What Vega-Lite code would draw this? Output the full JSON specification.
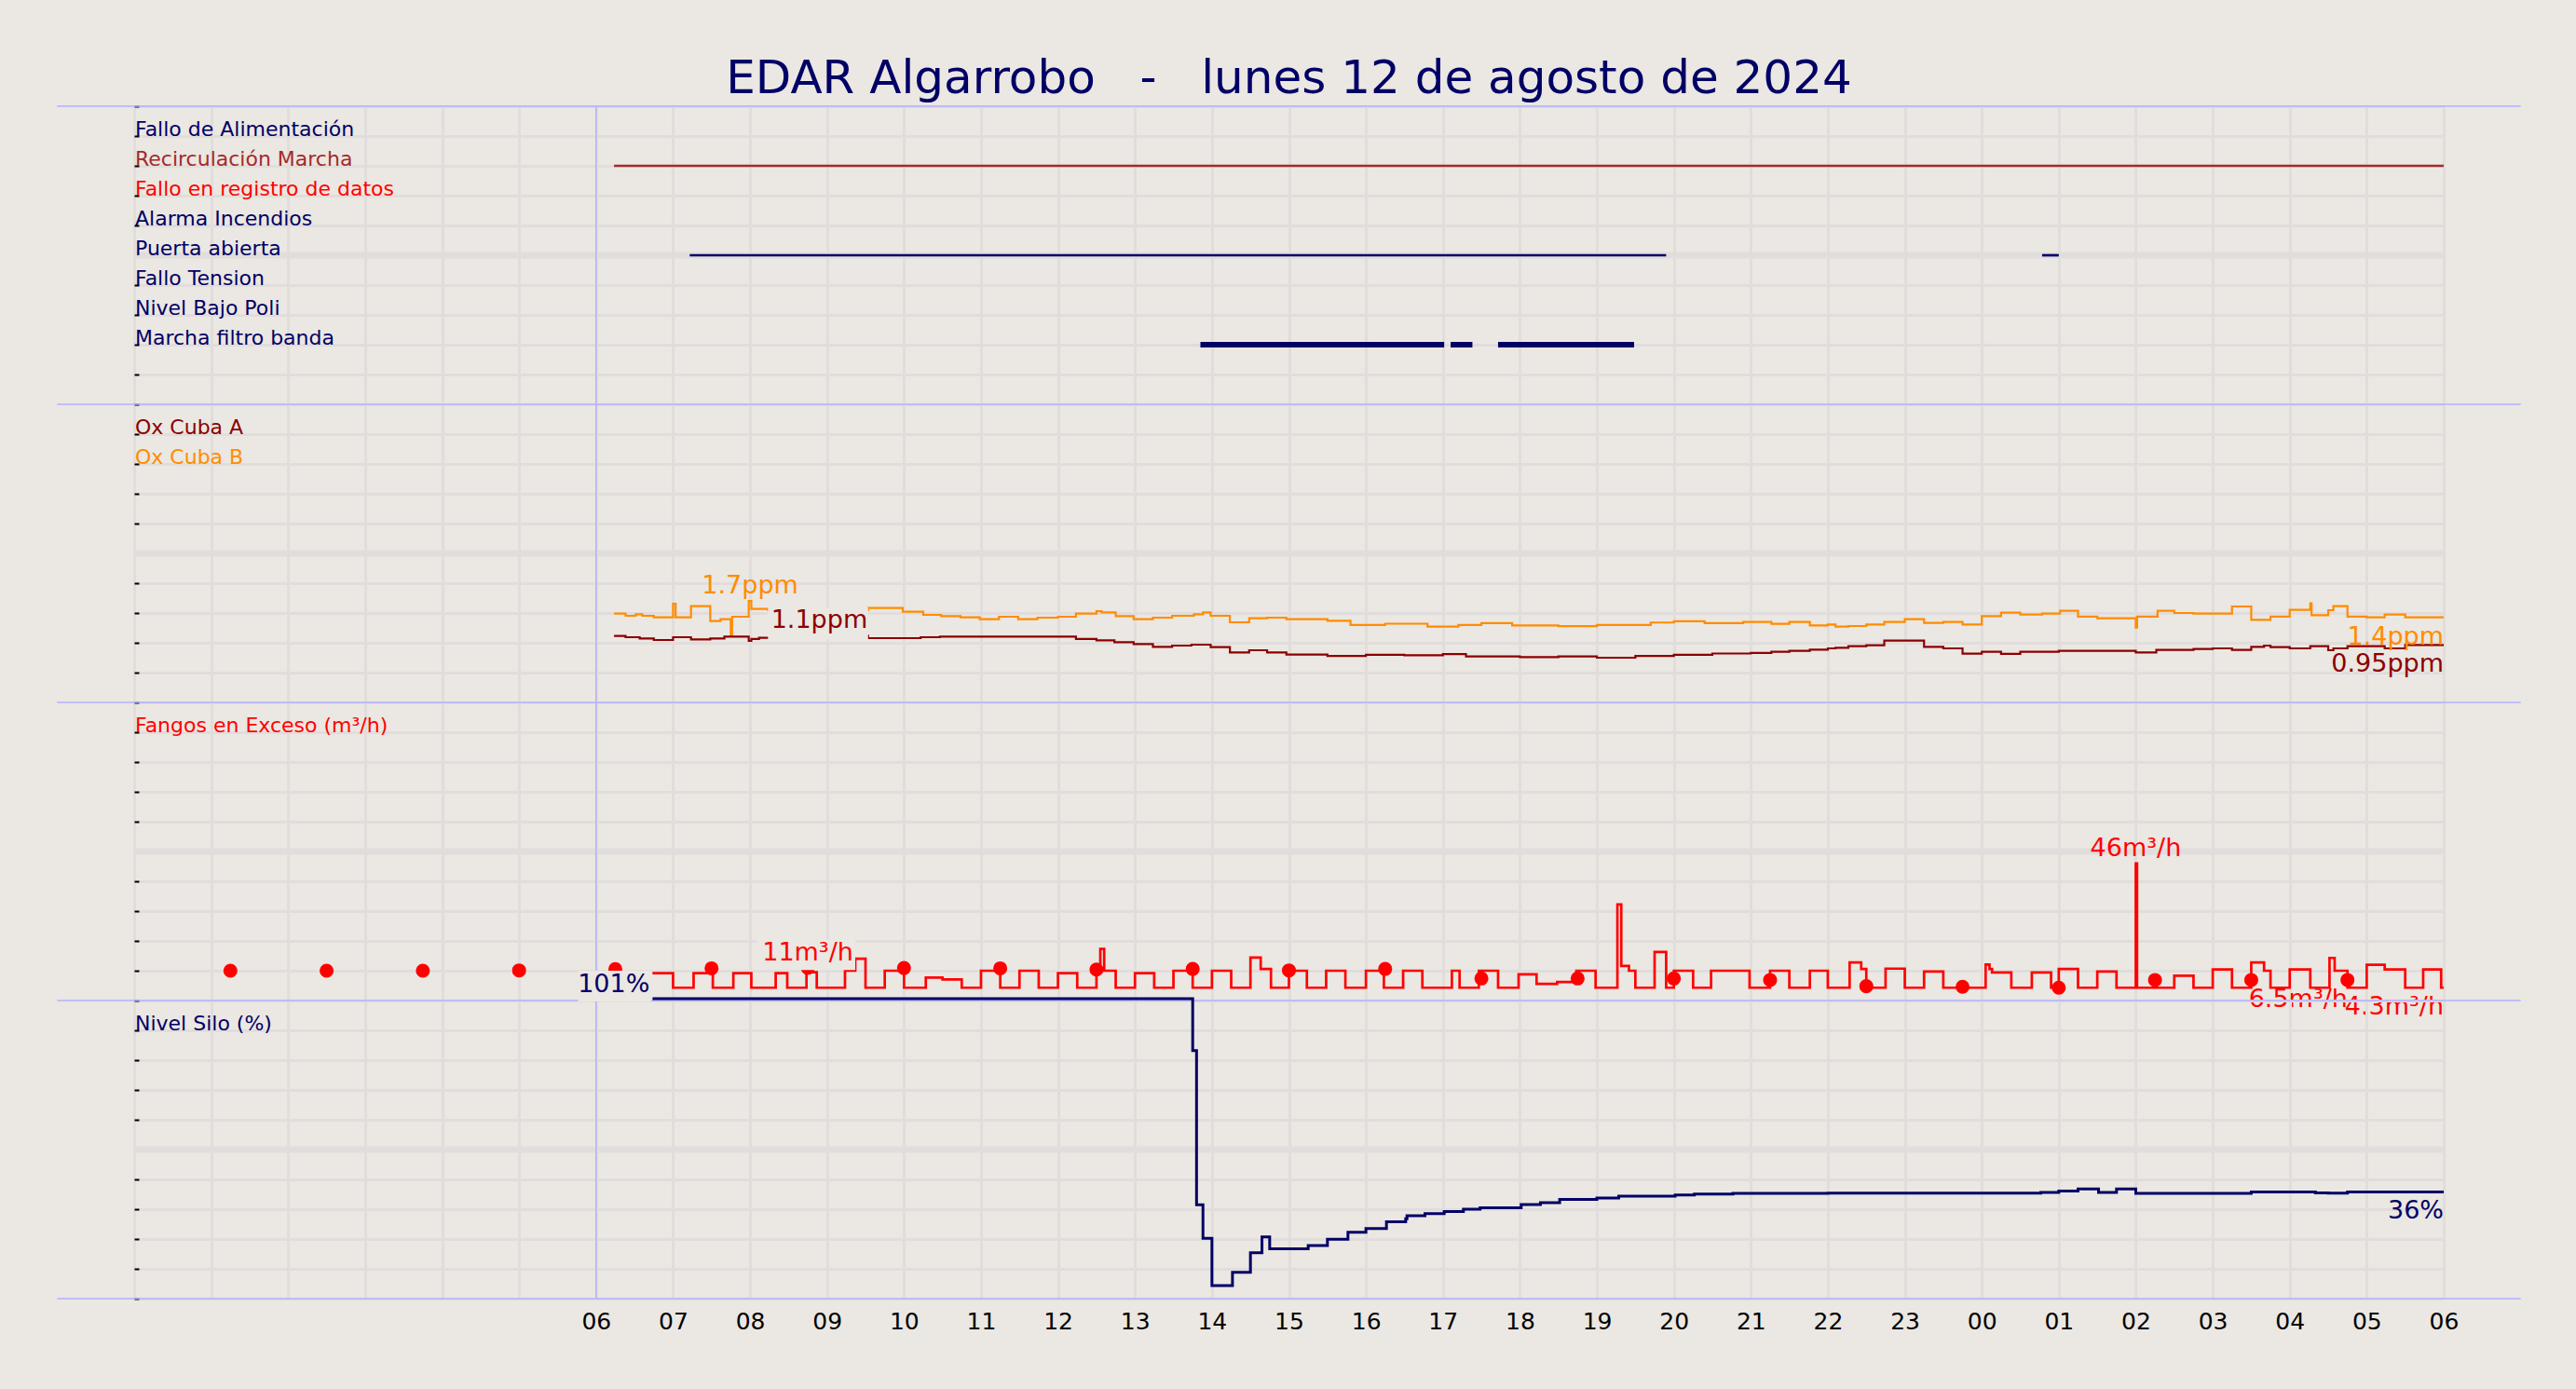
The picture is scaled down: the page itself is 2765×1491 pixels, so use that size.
{
  "$schema": "https://vega.github.io/schema/vega-lite/v6.json",
  "background": "#ebe7e2",
  "padding": {"left": 60, "right": 60, "top": 60, "bottom": 70},
  "title": {"text": "EDAR Algarrobo\u00a0\u00a0\u00a0-\u00a0\u00a0\u00a0lunes 12 de agosto de 2024", "fontSize": 50, "font": "DejaVu Sans", "fontWeight": "normal", "color": "#000066", "anchor": "middle", "frame": "group", "offset": 3},
  "config": {"font": "DejaVu Sans", "view": {"stroke": null}},
  "spacing": 0,
  "bounds": "flush",
  "datasets": {
    "siglist": [
      {"signal": "Fallo de Alimentación"}, {"signal": "Recirculación Marcha"}, {"signal": "Fallo en registro de datos"}, {"signal": "Alarma Incendios"},
      {"signal": "Puerta abierta"}, {"signal": "Fallo Tension"}, {"signal": "Nivel Bajo Poli"}, {"signal": "Marcha filtro banda"}
    ],
    "segments": [
      {"signal": "Recirculación Marcha", "start": "2024-08-12T06:14:00Z", "end": "2024-08-13T06:00:00Z"},
      {"signal": "Puerta abierta", "start": "2024-08-12T07:13:00Z", "end": "2024-08-12T19:54:00Z"},
      {"signal": "Puerta abierta", "start": "2024-08-13T00:47:00Z", "end": "2024-08-13T01:00:00Z"},
      {"signal": "Marcha filtro banda", "start": "2024-08-12T13:51:00Z", "end": "2024-08-12T17:01:00Z"},
      {"signal": "Marcha filtro banda", "start": "2024-08-12T17:06:00Z", "end": "2024-08-12T17:23:00Z"},
      {"signal": "Marcha filtro banda", "start": "2024-08-12T17:43:00Z", "end": "2024-08-12T19:29:00Z"}
    ],
    "ox": [
      {"series": "Ox Cuba B", "t": "2024-08-12T06:14:00Z", "v": 1.49},
      {"series": "Ox Cuba B", "t": "2024-08-12T06:23:00Z", "v": 1.453},
      {"series": "Ox Cuba B", "t": "2024-08-12T06:31:00Z", "v": 1.479},
      {"series": "Ox Cuba B", "t": "2024-08-12T06:36:00Z", "v": 1.453},
      {"series": "Ox Cuba B", "t": "2024-08-12T06:45:00Z", "v": 1.427},
      {"series": "Ox Cuba B", "t": "2024-08-12T07:00:00Z", "v": 1.656},
      {"series": "Ox Cuba B", "t": "2024-08-12T07:02:00Z", "v": 1.427},
      {"series": "Ox Cuba B", "t": "2024-08-12T07:14:00Z", "v": 1.615},
      {"series": "Ox Cuba B", "t": "2024-08-12T07:29:00Z", "v": 1.365},
      {"series": "Ox Cuba B", "t": "2024-08-12T07:37:00Z", "v": 1.396},
      {"series": "Ox Cuba B", "t": "2024-08-12T07:45:00Z", "v": 1.125},
      {"series": "Ox Cuba B", "t": "2024-08-12T07:46:00Z", "v": 1.4375},
      {"series": "Ox Cuba B", "t": "2024-08-12T07:59:00Z", "v": 1.7},
      {"series": "Ox Cuba B", "t": "2024-08-12T08:01:00Z", "v": 1.568},
      {"series": "Ox Cuba B", "t": "2024-08-12T08:14:00Z", "v": 1.55},
      {"series": "Ox Cuba B", "t": "2024-08-12T09:32:00Z", "v": 1.583},
      {"series": "Ox Cuba B", "t": "2024-08-12T09:59:00Z", "v": 1.521},
      {"series": "Ox Cuba B", "t": "2024-08-12T10:15:00Z", "v": 1.469},
      {"series": "Ox Cuba B", "t": "2024-08-12T10:29:00Z", "v": 1.448},
      {"series": "Ox Cuba B", "t": "2024-08-12T10:44:00Z", "v": 1.427},
      {"series": "Ox Cuba B", "t": "2024-08-12T10:59:00Z", "v": 1.396},
      {"series": "Ox Cuba B", "t": "2024-08-12T11:14:00Z", "v": 1.4375},
      {"series": "Ox Cuba B", "t": "2024-08-12T11:29:00Z", "v": 1.396},
      {"series": "Ox Cuba B", "t": "2024-08-12T11:44:00Z", "v": 1.422},
      {"series": "Ox Cuba B", "t": "2024-08-12T12:00:00Z", "v": 1.4375},
      {"series": "Ox Cuba B", "t": "2024-08-12T12:14:00Z", "v": 1.49},
      {"series": "Ox Cuba B", "t": "2024-08-12T12:30:00Z", "v": 1.531},
      {"series": "Ox Cuba B", "t": "2024-08-12T12:34:00Z", "v": 1.51},
      {"series": "Ox Cuba B", "t": "2024-08-12T12:45:00Z", "v": 1.448},
      {"series": "Ox Cuba B", "t": "2024-08-12T12:59:00Z", "v": 1.396},
      {"series": "Ox Cuba B", "t": "2024-08-12T13:14:00Z", "v": 1.422},
      {"series": "Ox Cuba B", "t": "2024-08-12T13:29:00Z", "v": 1.453},
      {"series": "Ox Cuba B", "t": "2024-08-12T13:46:00Z", "v": 1.479},
      {"series": "Ox Cuba B", "t": "2024-08-12T13:53:00Z", "v": 1.51},
      {"series": "Ox Cuba B", "t": "2024-08-12T13:59:00Z", "v": 1.453},
      {"series": "Ox Cuba B", "t": "2024-08-12T14:14:00Z", "v": 1.344},
      {"series": "Ox Cuba B", "t": "2024-08-12T14:29:00Z", "v": 1.411},
      {"series": "Ox Cuba B", "t": "2024-08-12T14:43:00Z", "v": 1.422},
      {"series": "Ox Cuba B", "t": "2024-08-12T14:58:00Z", "v": 1.396},
      {"series": "Ox Cuba B", "t": "2024-08-12T15:30:00Z", "v": 1.37},
      {"series": "Ox Cuba B", "t": "2024-08-12T15:48:00Z", "v": 1.3},
      {"series": "Ox Cuba B", "t": "2024-08-12T16:15:00Z", "v": 1.32},
      {"series": "Ox Cuba B", "t": "2024-08-12T16:48:00Z", "v": 1.27},
      {"series": "Ox Cuba B", "t": "2024-08-12T17:12:00Z", "v": 1.3},
      {"series": "Ox Cuba B", "t": "2024-08-12T17:30:00Z", "v": 1.33},
      {"series": "Ox Cuba B", "t": "2024-08-12T17:54:00Z", "v": 1.29},
      {"series": "Ox Cuba B", "t": "2024-08-12T18:30:00Z", "v": 1.28},
      {"series": "Ox Cuba B", "t": "2024-08-12T19:00:00Z", "v": 1.3},
      {"series": "Ox Cuba B", "t": "2024-08-12T19:42:00Z", "v": 1.34},
      {"series": "Ox Cuba B", "t": "2024-08-12T20:00:00Z", "v": 1.36},
      {"series": "Ox Cuba B", "t": "2024-08-12T20:24:00Z", "v": 1.33},
      {"series": "Ox Cuba B", "t": "2024-08-12T20:54:00Z", "v": 1.35},
      {"series": "Ox Cuba B", "t": "2024-08-12T21:16:00Z", "v": 1.318},
      {"series": "Ox Cuba B", "t": "2024-08-12T21:30:00Z", "v": 1.349},
      {"series": "Ox Cuba B", "t": "2024-08-12T21:46:00Z", "v": 1.292},
      {"series": "Ox Cuba B", "t": "2024-08-12T22:00:00Z", "v": 1.307},
      {"series": "Ox Cuba B", "t": "2024-08-12T22:06:00Z", "v": 1.271},
      {"series": "Ox Cuba B", "t": "2024-08-12T22:16:00Z", "v": 1.281},
      {"series": "Ox Cuba B", "t": "2024-08-12T22:30:00Z", "v": 1.307},
      {"series": "Ox Cuba B", "t": "2024-08-12T22:44:00Z", "v": 1.349},
      {"series": "Ox Cuba B", "t": "2024-08-12T23:00:00Z", "v": 1.396},
      {"series": "Ox Cuba B", "t": "2024-08-12T23:15:00Z", "v": 1.333},
      {"series": "Ox Cuba B", "t": "2024-08-12T23:30:00Z", "v": 1.349},
      {"series": "Ox Cuba B", "t": "2024-08-12T23:45:00Z", "v": 1.307},
      {"series": "Ox Cuba B", "t": "2024-08-13T00:00:00Z", "v": 1.448},
      {"series": "Ox Cuba B", "t": "2024-08-13T00:15:00Z", "v": 1.505},
      {"series": "Ox Cuba B", "t": "2024-08-13T00:30:00Z", "v": 1.474},
      {"series": "Ox Cuba B", "t": "2024-08-13T00:47:00Z", "v": 1.49},
      {"series": "Ox Cuba B", "t": "2024-08-13T01:01:00Z", "v": 1.536},
      {"series": "Ox Cuba B", "t": "2024-08-13T01:15:00Z", "v": 1.438},
      {"series": "Ox Cuba B", "t": "2024-08-13T01:30:00Z", "v": 1.411},
      {"series": "Ox Cuba B", "t": "2024-08-13T02:00:00Z", "v": 1.255},
      {"series": "Ox Cuba B", "t": "2024-08-13T02:01:00Z", "v": 1.438},
      {"series": "Ox Cuba B", "t": "2024-08-13T02:17:00Z", "v": 1.536},
      {"series": "Ox Cuba B", "t": "2024-08-13T02:30:00Z", "v": 1.5},
      {"series": "Ox Cuba B", "t": "2024-08-13T02:45:00Z", "v": 1.49},
      {"series": "Ox Cuba B", "t": "2024-08-13T03:15:00Z", "v": 1.609},
      {"series": "Ox Cuba B", "t": "2024-08-13T03:30:00Z", "v": 1.385},
      {"series": "Ox Cuba B", "t": "2024-08-13T03:45:00Z", "v": 1.438},
      {"series": "Ox Cuba B", "t": "2024-08-13T04:00:00Z", "v": 1.552},
      {"series": "Ox Cuba B", "t": "2024-08-13T04:16:00Z", "v": 1.661},
      {"series": "Ox Cuba B", "t": "2024-08-13T04:17:00Z", "v": 1.464},
      {"series": "Ox Cuba B", "t": "2024-08-13T04:30:00Z", "v": 1.547},
      {"series": "Ox Cuba B", "t": "2024-08-13T04:34:00Z", "v": 1.615},
      {"series": "Ox Cuba B", "t": "2024-08-13T04:45:00Z", "v": 1.438},
      {"series": "Ox Cuba B", "t": "2024-08-13T05:00:00Z", "v": 1.427},
      {"series": "Ox Cuba B", "t": "2024-08-13T05:14:00Z", "v": 1.474},
      {"series": "Ox Cuba B", "t": "2024-08-13T05:30:00Z", "v": 1.427},
      {"series": "Ox Cuba B", "t": "2024-08-13T06:00:00Z", "v": 1.427},
      {"series": "Ox Cuba A", "t": "2024-08-12T06:14:00Z", "v": 1.114},
      {"series": "Ox Cuba A", "t": "2024-08-12T06:23:00Z", "v": 1.094},
      {"series": "Ox Cuba A", "t": "2024-08-12T06:34:00Z", "v": 1.073},
      {"series": "Ox Cuba A", "t": "2024-08-12T06:45:00Z", "v": 1.047},
      {"series": "Ox Cuba A", "t": "2024-08-12T07:00:00Z", "v": 1.094},
      {"series": "Ox Cuba A", "t": "2024-08-12T07:14:00Z", "v": 1.057},
      {"series": "Ox Cuba A", "t": "2024-08-12T07:29:00Z", "v": 1.073},
      {"series": "Ox Cuba A", "t": "2024-08-12T07:40:00Z", "v": 1.104},
      {"series": "Ox Cuba A", "t": "2024-08-12T07:59:00Z", "v": 1.031},
      {"series": "Ox Cuba A", "t": "2024-08-12T08:01:00Z", "v": 1.063},
      {"series": "Ox Cuba A", "t": "2024-08-12T08:07:00Z", "v": 1.083},
      {"series": "Ox Cuba A", "t": "2024-08-12T08:54:00Z", "v": 1.12},
      {"series": "Ox Cuba A", "t": "2024-08-12T09:32:00Z", "v": 1.078},
      {"series": "Ox Cuba A", "t": "2024-08-12T10:13:00Z", "v": 1.094},
      {"series": "Ox Cuba A", "t": "2024-08-12T10:28:00Z", "v": 1.104},
      {"series": "Ox Cuba A", "t": "2024-08-12T12:14:00Z", "v": 1.063},
      {"series": "Ox Cuba A", "t": "2024-08-12T12:30:00Z", "v": 1.042},
      {"series": "Ox Cuba A", "t": "2024-08-12T12:44:00Z", "v": 1.01},
      {"series": "Ox Cuba A", "t": "2024-08-12T12:59:00Z", "v": 0.979},
      {"series": "Ox Cuba A", "t": "2024-08-12T13:14:00Z", "v": 0.932},
      {"series": "Ox Cuba A", "t": "2024-08-12T13:29:00Z", "v": 0.953},
      {"series": "Ox Cuba A", "t": "2024-08-12T13:44:00Z", "v": 0.969},
      {"series": "Ox Cuba A", "t": "2024-08-12T13:59:00Z", "v": 0.927},
      {"series": "Ox Cuba A", "t": "2024-08-12T14:14:00Z", "v": 0.839},
      {"series": "Ox Cuba A", "t": "2024-08-12T14:29:00Z", "v": 0.875},
      {"series": "Ox Cuba A", "t": "2024-08-12T14:43:00Z", "v": 0.839},
      {"series": "Ox Cuba A", "t": "2024-08-12T14:58:00Z", "v": 0.802},
      {"series": "Ox Cuba A", "t": "2024-08-12T15:30:00Z", "v": 0.78},
      {"series": "Ox Cuba A", "t": "2024-08-12T16:00:00Z", "v": 0.8},
      {"series": "Ox Cuba A", "t": "2024-08-12T16:30:00Z", "v": 0.79},
      {"series": "Ox Cuba A", "t": "2024-08-12T17:00:00Z", "v": 0.81},
      {"series": "Ox Cuba A", "t": "2024-08-12T17:18:00Z", "v": 0.77},
      {"series": "Ox Cuba A", "t": "2024-08-12T18:00:00Z", "v": 0.76},
      {"series": "Ox Cuba A", "t": "2024-08-12T18:30:00Z", "v": 0.77},
      {"series": "Ox Cuba A", "t": "2024-08-12T19:00:00Z", "v": 0.75},
      {"series": "Ox Cuba A", "t": "2024-08-12T19:30:00Z", "v": 0.78},
      {"series": "Ox Cuba A", "t": "2024-08-12T20:00:00Z", "v": 0.8},
      {"series": "Ox Cuba A", "t": "2024-08-12T20:30:00Z", "v": 0.82},
      {"series": "Ox Cuba A", "t": "2024-08-12T21:00:00Z", "v": 0.83},
      {"series": "Ox Cuba A", "t": "2024-08-12T21:16:00Z", "v": 0.849},
      {"series": "Ox Cuba A", "t": "2024-08-12T21:30:00Z", "v": 0.865},
      {"series": "Ox Cuba A", "t": "2024-08-12T21:46:00Z", "v": 0.885},
      {"series": "Ox Cuba A", "t": "2024-08-12T22:00:00Z", "v": 0.906},
      {"series": "Ox Cuba A", "t": "2024-08-12T22:06:00Z", "v": 0.917},
      {"series": "Ox Cuba A", "t": "2024-08-12T22:16:00Z", "v": 0.943},
      {"series": "Ox Cuba A", "t": "2024-08-12T22:30:00Z", "v": 0.958},
      {"series": "Ox Cuba A", "t": "2024-08-12T22:44:00Z", "v": 1.036},
      {"series": "Ox Cuba A", "t": "2024-08-12T23:15:00Z", "v": 0.932},
      {"series": "Ox Cuba A", "t": "2024-08-12T23:30:00Z", "v": 0.906},
      {"series": "Ox Cuba A", "t": "2024-08-12T23:45:00Z", "v": 0.818},
      {"series": "Ox Cuba A", "t": "2024-08-13T00:00:00Z", "v": 0.849},
      {"series": "Ox Cuba A", "t": "2024-08-13T00:15:00Z", "v": 0.813},
      {"series": "Ox Cuba A", "t": "2024-08-13T00:30:00Z", "v": 0.849},
      {"series": "Ox Cuba A", "t": "2024-08-13T01:00:00Z", "v": 0.865},
      {"series": "Ox Cuba A", "t": "2024-08-13T02:00:00Z", "v": 0.839},
      {"series": "Ox Cuba A", "t": "2024-08-13T02:16:00Z", "v": 0.88},
      {"series": "Ox Cuba A", "t": "2024-08-13T02:45:00Z", "v": 0.896},
      {"series": "Ox Cuba A", "t": "2024-08-13T03:00:00Z", "v": 0.906},
      {"series": "Ox Cuba A", "t": "2024-08-13T03:15:00Z", "v": 0.88},
      {"series": "Ox Cuba A", "t": "2024-08-13T03:30:00Z", "v": 0.932},
      {"series": "Ox Cuba A", "t": "2024-08-13T03:40:00Z", "v": 0.953},
      {"series": "Ox Cuba A", "t": "2024-08-13T03:45:00Z", "v": 0.927},
      {"series": "Ox Cuba A", "t": "2024-08-13T04:00:00Z", "v": 0.906},
      {"series": "Ox Cuba A", "t": "2024-08-13T04:16:00Z", "v": 0.943},
      {"series": "Ox Cuba A", "t": "2024-08-13T04:30:00Z", "v": 0.875},
      {"series": "Ox Cuba A", "t": "2024-08-13T04:34:00Z", "v": 0.906},
      {"series": "Ox Cuba A", "t": "2024-08-13T04:45:00Z", "v": 0.943},
      {"series": "Ox Cuba A", "t": "2024-08-13T05:14:00Z", "v": 0.906},
      {"series": "Ox Cuba A", "t": "2024-08-13T05:30:00Z", "v": 0.964},
      {"series": "Ox Cuba A", "t": "2024-08-13T06:00:00Z", "v": 0.964}
    ],
    "fangos": [
      {"t": "2024-08-12T06:44:00Z", "v": 9.2}, {"t": "2024-08-12T07:00:00Z", "v": 4.3},
      {"t": "2024-08-12T07:16:00Z", "v": 9.2}, {"t": "2024-08-12T07:31:00Z", "v": 4.3},
      {"t": "2024-08-12T07:47:00Z", "v": 9.2}, {"t": "2024-08-12T08:01:00Z", "v": 4.3},
      {"t": "2024-08-12T08:20:00Z", "v": 9.2}, {"t": "2024-08-12T08:29:00Z", "v": 4.3},
      {"t": "2024-08-12T08:44:00Z", "v": 9.5}, {"t": "2024-08-12T08:52:00Z", "v": 4.3},
      {"t": "2024-08-12T09:14:00Z", "v": 10.0}, {"t": "2024-08-12T09:22:00Z", "v": 14.0}, {"t": "2024-08-12T09:30:00Z", "v": 4.3},
      {"t": "2024-08-12T09:45:00Z", "v": 10.0}, {"t": "2024-08-12T10:00:00Z", "v": 4.3},
      {"t": "2024-08-12T10:17:00Z", "v": 7.7}, {"t": "2024-08-12T10:30:00Z", "v": 7.1}, {"t": "2024-08-12T10:45:00Z", "v": 4.3},
      {"t": "2024-08-12T11:00:00Z", "v": 10.0}, {"t": "2024-08-12T11:15:00Z", "v": 4.3},
      {"t": "2024-08-12T11:30:00Z", "v": 10.0}, {"t": "2024-08-12T11:45:00Z", "v": 4.3},
      {"t": "2024-08-12T12:00:00Z", "v": 9.2}, {"t": "2024-08-12T12:15:00Z", "v": 4.3},
      {"t": "2024-08-12T12:30:00Z", "v": 10.0}, {"t": "2024-08-12T12:33:00Z", "v": 17.3}, {"t": "2024-08-12T12:36:00Z", "v": 10.0}, {"t": "2024-08-12T12:45:00Z", "v": 4.3},
      {"t": "2024-08-12T13:00:00Z", "v": 9.2}, {"t": "2024-08-12T13:15:00Z", "v": 4.3},
      {"t": "2024-08-12T13:30:00Z", "v": 10.0}, {"t": "2024-08-12T13:45:00Z", "v": 4.3},
      {"t": "2024-08-12T14:00:00Z", "v": 10.0}, {"t": "2024-08-12T14:15:00Z", "v": 4.3},
      {"t": "2024-08-12T14:30:00Z", "v": 14.4}, {"t": "2024-08-12T14:38:00Z", "v": 10.6}, {"t": "2024-08-12T14:46:00Z", "v": 4.3},
      {"t": "2024-08-12T15:00:00Z", "v": 10.0}, {"t": "2024-08-12T15:14:00Z", "v": 4.3},
      {"t": "2024-08-12T15:29:00Z", "v": 10.0}, {"t": "2024-08-12T15:44:00Z", "v": 4.3},
      {"t": "2024-08-12T16:00:00Z", "v": 10.0}, {"t": "2024-08-12T16:14:00Z", "v": 4.3},
      {"t": "2024-08-12T16:29:00Z", "v": 10.0}, {"t": "2024-08-12T16:44:00Z", "v": 4.3},
      {"t": "2024-08-12T17:07:00Z", "v": 10.0}, {"t": "2024-08-12T17:13:00Z", "v": 4.3},
      {"t": "2024-08-12T17:28:00Z", "v": 10.0}, {"t": "2024-08-12T17:43:00Z", "v": 4.3},
      {"t": "2024-08-12T17:59:00Z", "v": 8.8}, {"t": "2024-08-12T18:13:00Z", "v": 5.6}, {"t": "2024-08-12T18:29:00Z", "v": 6.2},
      {"t": "2024-08-12T18:44:00Z", "v": 10.0}, {"t": "2024-08-12T18:59:00Z", "v": 4.3},
      {"t": "2024-08-12T19:16:00Z", "v": 32.2}, {"t": "2024-08-12T19:19:00Z", "v": 11.6}, {"t": "2024-08-12T19:25:00Z", "v": 10.0}, {"t": "2024-08-12T19:30:00Z", "v": 4.3},
      {"t": "2024-08-12T19:45:00Z", "v": 16.3}, {"t": "2024-08-12T19:54:00Z", "v": 4.3},
      {"t": "2024-08-12T20:00:00Z", "v": 10.0}, {"t": "2024-08-12T20:15:00Z", "v": 4.3},
      {"t": "2024-08-12T20:29:00Z", "v": 10.0}, {"t": "2024-08-12T20:59:00Z", "v": 4.3},
      {"t": "2024-08-12T21:15:00Z", "v": 10.0}, {"t": "2024-08-12T21:30:00Z", "v": 4.3},
      {"t": "2024-08-12T21:46:00Z", "v": 10.0}, {"t": "2024-08-12T22:00:00Z", "v": 4.3},
      {"t": "2024-08-12T22:17:00Z", "v": 12.8}, {"t": "2024-08-12T22:26:00Z", "v": 10.6}, {"t": "2024-08-12T22:30:00Z", "v": 4.3},
      {"t": "2024-08-12T22:45:00Z", "v": 10.7}, {"t": "2024-08-12T23:00:00Z", "v": 4.3},
      {"t": "2024-08-12T23:15:00Z", "v": 9.7}, {"t": "2024-08-12T23:30:00Z", "v": 4.3},
      {"t": "2024-08-13T00:03:00Z", "v": 12.1}, {"t": "2024-08-13T00:06:00Z", "v": 10.6}, {"t": "2024-08-13T00:08:00Z", "v": 9.4}, {"t": "2024-08-13T00:23:00Z", "v": 4.3},
      {"t": "2024-08-13T00:39:00Z", "v": 9.4}, {"t": "2024-08-13T00:54:00Z", "v": 4.3},
      {"t": "2024-08-13T01:00:00Z", "v": 10.6}, {"t": "2024-08-13T01:15:00Z", "v": 4.3},
      {"t": "2024-08-13T01:30:00Z", "v": 9.7}, {"t": "2024-08-13T01:45:00Z", "v": 4.3},
      {"t": "2024-08-13T02:00:00Z", "v": 46.0}, {"t": "2024-08-13T02:01:00Z", "v": 4.3},
      {"t": "2024-08-13T02:30:00Z", "v": 8.3}, {"t": "2024-08-13T02:45:00Z", "v": 4.3},
      {"t": "2024-08-13T03:00:00Z", "v": 10.4}, {"t": "2024-08-13T03:15:00Z", "v": 4.3},
      {"t": "2024-08-13T03:30:00Z", "v": 12.8}, {"t": "2024-08-13T03:40:00Z", "v": 10.0}, {"t": "2024-08-13T03:45:00Z", "v": 4.3},
      {"t": "2024-08-13T04:00:00Z", "v": 10.4}, {"t": "2024-08-13T04:16:00Z", "v": 4.3},
      {"t": "2024-08-13T04:31:00Z", "v": 14.3}, {"t": "2024-08-13T04:35:00Z", "v": 10.0}, {"t": "2024-08-13T04:45:00Z", "v": 4.3},
      {"t": "2024-08-13T05:00:00Z", "v": 12.0}, {"t": "2024-08-13T05:14:00Z", "v": 10.4}, {"t": "2024-08-13T05:30:00Z", "v": 4.3},
      {"t": "2024-08-13T05:44:00Z", "v": 10.4}, {"t": "2024-08-13T05:58:00Z", "v": 4.3},
      {"t": "2024-08-13T06:00:00Z", "v": 4.3}
    ],
    "fangos_pts": [
      {"t": "2024-08-12T01:15:00Z", "v": 10.0}, {"t": "2024-08-12T02:30:00Z", "v": 10.0}, {"t": "2024-08-12T03:45:00Z", "v": 10.0},
      {"t": "2024-08-12T05:00:00Z", "v": 10.1}, {"t": "2024-08-12T06:15:00Z", "v": 10.5}, {"t": "2024-08-12T07:30:00Z", "v": 10.8},
      {"t": "2024-08-12T08:45:00Z", "v": 11.0}, {"t": "2024-08-12T10:00:00Z", "v": 10.9}, {"t": "2024-08-12T11:15:00Z", "v": 10.8},
      {"t": "2024-08-12T12:30:00Z", "v": 10.4}, {"t": "2024-08-12T13:45:00Z", "v": 10.6}, {"t": "2024-08-12T15:00:00Z", "v": 10.1},
      {"t": "2024-08-12T16:15:00Z", "v": 10.6}, {"t": "2024-08-12T17:30:00Z", "v": 7.4}, {"t": "2024-08-12T18:45:00Z", "v": 7.4},
      {"t": "2024-08-12T20:00:00Z", "v": 7.4}, {"t": "2024-08-12T21:15:00Z", "v": 6.9}, {"t": "2024-08-12T22:30:00Z", "v": 4.8},
      {"t": "2024-08-12T23:45:00Z", "v": 4.6}, {"t": "2024-08-13T01:00:00Z", "v": 4.3}, {"t": "2024-08-13T02:15:00Z", "v": 6.9},
      {"t": "2024-08-13T03:30:00Z", "v": 6.9}, {"t": "2024-08-13T04:45:00Z", "v": 6.9}
    ],
    "silo": [
      {"t": "2024-08-12T06:44:00Z", "v": 100.6}, {"t": "2024-08-12T13:45:00Z", "v": 83.2}, {"t": "2024-08-12T13:48:00Z", "v": 31.5},
      {"t": "2024-08-12T13:53:00Z", "v": 20.2}, {"t": "2024-08-12T14:00:00Z", "v": 4.4}, {"t": "2024-08-12T14:16:00Z", "v": 8.85},
      {"t": "2024-08-12T14:30:00Z", "v": 15.4}, {"t": "2024-08-12T14:39:00Z", "v": 20.7}, {"t": "2024-08-12T14:45:00Z", "v": 16.7},
      {"t": "2024-08-12T15:15:00Z", "v": 17.8}, {"t": "2024-08-12T15:30:00Z", "v": 19.9}, {"t": "2024-08-12T15:46:00Z", "v": 22.3},
      {"t": "2024-08-12T16:00:00Z", "v": 23.5}, {"t": "2024-08-12T16:16:00Z", "v": 25.8}, {"t": "2024-08-12T16:31:00Z", "v": 26.8},
      {"t": "2024-08-12T16:32:00Z", "v": 27.8}, {"t": "2024-08-12T16:46:00Z", "v": 28.5}, {"t": "2024-08-12T17:01:00Z", "v": 29.2},
      {"t": "2024-08-12T17:16:00Z", "v": 30.0}, {"t": "2024-08-12T17:29:00Z", "v": 30.5}, {"t": "2024-08-12T18:01:00Z", "v": 31.6},
      {"t": "2024-08-12T18:16:00Z", "v": 32.2}, {"t": "2024-08-12T18:31:00Z", "v": 33.3}, {"t": "2024-08-12T19:00:00Z", "v": 33.75},
      {"t": "2024-08-12T19:17:00Z", "v": 34.4}, {"t": "2024-08-12T20:01:00Z", "v": 34.8}, {"t": "2024-08-12T20:16:00Z", "v": 35.1},
      {"t": "2024-08-12T20:46:00Z", "v": 35.3}, {"t": "2024-08-12T22:00:00Z", "v": 35.4}, {"t": "2024-08-13T00:46:00Z", "v": 35.6},
      {"t": "2024-08-13T01:00:00Z", "v": 36.1}, {"t": "2024-08-13T01:15:00Z", "v": 36.8}, {"t": "2024-08-13T01:31:00Z", "v": 35.6},
      {"t": "2024-08-13T01:45:00Z", "v": 36.8}, {"t": "2024-08-13T02:00:00Z", "v": 35.3}, {"t": "2024-08-13T03:30:00Z", "v": 35.8},
      {"t": "2024-08-13T04:20:00Z", "v": 35.5}, {"t": "2024-08-13T04:30:00Z", "v": 35.4}, {"t": "2024-08-13T04:45:00Z", "v": 35.8},
      {"t": "2024-08-13T06:00:00Z", "v": 35.8}
    ],
    "annot": [
      {"panel": "ox", "series": "Ox Cuba B", "kind": "max", "t": "2024-08-12T08:00:00Z", "v": 1.7, "label": "1.7ppm"},
      {"panel": "ox", "series": "Ox Cuba A", "kind": "max", "t": "2024-08-12T08:54:00Z", "v": 1.12, "label": "1.1ppm"},
      {"panel": "ox", "series": "Ox Cuba B", "kind": "last", "t": "2024-08-13T06:00:00Z", "v": 1.427, "label": "1.4ppm"},
      {"panel": "ox", "series": "Ox Cuba A", "kind": "last", "t": "2024-08-13T06:00:00Z", "v": 0.964, "label": "0.95ppm"},
      {"panel": "fangos", "series": "Fangos", "kind": "max", "t": "2024-08-13T02:00:00Z", "v": 46, "label": "46m³/h"},
      {"panel": "fangos", "series": "Fangos", "kind": "max", "t": "2024-08-12T08:45:00Z", "v": 11, "label": "11m³/h"},
      {"panel": "fangos", "series": "Fangos", "kind": "min", "t": "2024-08-13T03:28:00Z", "v": 6.5, "label": "6.5m³/h"},
      {"panel": "fangos", "series": "Fangos", "kind": "last", "t": "2024-08-13T06:00:00Z", "v": 4.3, "label": "4.3m³/h"},
      {"panel": "silo", "series": "Silo", "kind": "first", "t": "2024-08-12T06:44:00Z", "v": 100.6, "label": "101%"},
      {"panel": "silo", "series": "Silo", "kind": "last", "t": "2024-08-13T06:00:00Z", "v": 35.8, "label": "36%"}
    ]
  },
  "vconcat": [
    {
      "width": 2479, "height": 320,
      "layer": [
        {
          "data": {"values": [{}]},
          "mark": {"type": "rule", "color": "#e1dddc", "strokeWidth": 7},
          "encoding": {"y": {"datum": "Puerta abierta", "type": "nominal",
            "scale": {"type": "point", "padding": 0, "domain": ["_top", "Fallo de Alimentación", "Recirculación Marcha", "Fallo en registro de datos", "Alarma Incendios", "Puerta abierta", "Fallo Tension", "Nivel Bajo Poli", "Marcha filtro banda", "_r1", "_bottom"]},
            "axis": {"grid": true, "gridColor": "#e1dddc", "gridWidth": 3, "ticks": true, "tickSize": -5, "tickColor": "#000000", "tickWidth": 2, "labels": false, "domain": false, "title": null}}}
        },
        {
          "data": {"values": [{}]},
          "mark": {"type": "rule", "color": "#b0b0ff", "strokeWidth": 1.5, "clip": false},
          "encoding": {
            "x": {"datum": 1723417200000, "type": "temporal", "scale": {"domain": [1723420800000, 1723528800000], "nice": false},
              "axis": {"tickCount": 30, "grid": true, "gridColor": "#e1dddc", "gridWidth": 3, "ticks": false, "labels": false, "domain": false, "title": null}},
            "x2": {"datum": 1723532400000},
            "y": {"datum": "_top", "type": "nominal",
              "scale": {"type": "point", "padding": 0, "domain": ["_top", "Fallo de Alimentación", "Recirculación Marcha", "Fallo en registro de datos", "Alarma Incendios", "Puerta abierta", "Fallo Tension", "Nivel Bajo Poli", "Marcha filtro banda", "_r1", "_bottom"]},
              "axis": {"grid": true, "gridColor": "#e1dddc", "gridWidth": 3, "ticks": true, "tickSize": -5, "tickColor": "#000000", "tickWidth": 2, "labels": false, "domain": false, "title": null}}
          }
        },
        {
          "data": {"values": [{}]},
          "mark": {"type": "rule", "color": "#b0b0ff", "strokeWidth": 1.5},
          "encoding": {"x": {"datum": 1723442400000, "type": "temporal", "scale": {"domain": [1723420800000, 1723528800000], "nice": false},
            "axis": {"tickCount": 30, "grid": true, "gridColor": "#e1dddc", "gridWidth": 3, "ticks": false, "labels": false, "domain": false, "title": null}}}
        },
        {
          "data": {"name": "siglist"},
          "mark": {"type": "text", "align": "left", "baseline": "alphabetic", "fontSize": 22, "dx": 1},
          "encoding": {
            "x": {"datum": 1723420800000, "type": "temporal", "scale": {"domain": [1723420800000, 1723528800000], "nice": false},
              "axis": {"tickCount": 30, "grid": true, "gridColor": "#e1dddc", "gridWidth": 3, "ticks": false, "labels": false, "domain": false, "title": null}},
            "y": {"field": "signal", "type": "nominal",
              "scale": {"type": "point", "padding": 0, "domain": ["_top", "Fallo de Alimentación", "Recirculación Marcha", "Fallo en registro de datos", "Alarma Incendios", "Puerta abierta", "Fallo Tension", "Nivel Bajo Poli", "Marcha filtro banda", "_r1", "_bottom"]},
              "axis": {"grid": true, "gridColor": "#e1dddc", "gridWidth": 3, "ticks": true, "tickSize": -5, "tickColor": "#000000", "tickWidth": 2, "labels": false, "domain": false, "title": null}},
            "color": {"field": "signal", "type": "nominal", "legend": null,
              "scale": {"domain": ["Fallo de Alimentación", "Recirculación Marcha", "Fallo en registro de datos", "Alarma Incendios", "Puerta abierta", "Fallo Tension", "Nivel Bajo Poli", "Marcha filtro banda"],
                "range": ["#000066", "#a52a2a", "#ff0000", "#000066", "#000066", "#000066", "#000066", "#000066"]}},
            "text": {"field": "signal", "type": "nominal"}
          }
        },
        {
          "data": {"name": "segments"},
          "mark": {"type": "rule"},
          "encoding": {
            "x": {"field": "start", "type": "temporal", "scale": {"domain": [1723420800000, 1723528800000], "nice": false},
              "axis": {"tickCount": 30, "grid": true, "gridColor": "#e1dddc", "gridWidth": 3, "ticks": false, "labels": false, "domain": false, "title": null}},
            "x2": {"field": "end"},
            "y": {"field": "signal", "type": "nominal",
              "scale": {"type": "point", "padding": 0, "domain": ["_top", "Fallo de Alimentación", "Recirculación Marcha", "Fallo en registro de datos", "Alarma Incendios", "Puerta abierta", "Fallo Tension", "Nivel Bajo Poli", "Marcha filtro banda", "_r1", "_bottom"]},
              "axis": {"grid": true, "gridColor": "#e1dddc", "gridWidth": 3, "ticks": true, "tickSize": -5, "tickColor": "#000000", "tickWidth": 2, "labels": false, "domain": false, "title": null}},
            "color": {"field": "signal", "type": "nominal", "legend": null},
            "strokeWidth": {"condition": {"test": "datum.signal === 'Marcha filtro banda'", "value": 6}, "value": 2.7}
          }
        }
      ]
    },
    {
      "width": 2479, "height": 320,
      "layer": [
        {
          "data": {"values": [{}]},
          "mark": {"type": "rule", "color": "#e1dddc", "strokeWidth": 7},
          "encoding": {"y": {"datum": 2.5, "type": "quantitative", "scale": {"domain": [0, 5], "nice": false, "zero": false},
            "axis": {"values": [0, 0.5, 1, 1.5, 2, 2.5, 3, 3.5, 4, 4.5, 5], "grid": true, "gridColor": "#e1dddc", "gridWidth": 3, "ticks": true, "tickSize": -5, "tickColor": "#000000", "tickWidth": 2, "labels": false, "domain": false, "title": null}}}
        },
        {
          "data": {"values": [{}]},
          "mark": {"type": "rule", "color": "#b0b0ff", "strokeWidth": 1.5, "clip": false},
          "encoding": {
            "x": {"datum": 1723417200000, "type": "temporal", "scale": {"domain": [1723420800000, 1723528800000], "nice": false},
              "axis": {"tickCount": 30, "grid": true, "gridColor": "#e1dddc", "gridWidth": 3, "ticks": false, "labels": false, "domain": false, "title": null}},
            "x2": {"datum": 1723532400000},
            "y": {"datum": 5, "type": "quantitative", "scale": {"domain": [0, 5], "nice": false, "zero": false},
              "axis": {"values": [0, 0.5, 1, 1.5, 2, 2.5, 3, 3.5, 4, 4.5, 5], "grid": true, "gridColor": "#e1dddc", "gridWidth": 3, "ticks": true, "tickSize": -5, "tickColor": "#000000", "tickWidth": 2, "labels": false, "domain": false, "title": null}}
          }
        },
        {
          "data": {"values": [{}]},
          "mark": {"type": "rule", "color": "#b0b0ff", "strokeWidth": 1.5},
          "encoding": {"x": {"datum": 1723442400000, "type": "temporal", "scale": {"domain": [1723420800000, 1723528800000], "nice": false},
            "axis": {"tickCount": 30, "grid": true, "gridColor": "#e1dddc", "gridWidth": 3, "ticks": false, "labels": false, "domain": false, "title": null}}}
        },
        {
          "data": {"values": [{}]},
          "mark": {"type": "text", "align": "left", "baseline": "alphabetic", "fontSize": 22, "dx": 1, "color": "#8b0000"},
          "encoding": {
            "x": {"datum": 1723420800000, "type": "temporal", "scale": {"domain": [1723420800000, 1723528800000], "nice": false},
              "axis": {"tickCount": 30, "grid": true, "gridColor": "#e1dddc", "gridWidth": 3, "ticks": false, "labels": false, "domain": false, "title": null}},
            "y": {"datum": 4.5, "type": "quantitative", "scale": {"domain": [0, 5], "nice": false, "zero": false},
              "axis": {"values": [0, 0.5, 1, 1.5, 2, 2.5, 3, 3.5, 4, 4.5, 5], "grid": true, "gridColor": "#e1dddc", "gridWidth": 3, "ticks": true, "tickSize": -5, "tickColor": "#000000", "tickWidth": 2, "labels": false, "domain": false, "title": null}},
            "text": {"value": "Ox Cuba A"}
          }
        },
        {
          "data": {"values": [{}]},
          "mark": {"type": "text", "align": "left", "baseline": "alphabetic", "fontSize": 22, "dx": 1, "color": "#ff8c00"},
          "encoding": {
            "x": {"datum": 1723420800000, "type": "temporal", "scale": {"domain": [1723420800000, 1723528800000], "nice": false},
              "axis": {"tickCount": 30, "grid": true, "gridColor": "#e1dddc", "gridWidth": 3, "ticks": false, "labels": false, "domain": false, "title": null}},
            "y": {"datum": 4.0, "type": "quantitative", "scale": {"domain": [0, 5], "nice": false, "zero": false},
              "axis": {"values": [0, 0.5, 1, 1.5, 2, 2.5, 3, 3.5, 4, 4.5, 5], "grid": true, "gridColor": "#e1dddc", "gridWidth": 3, "ticks": true, "tickSize": -5, "tickColor": "#000000", "tickWidth": 2, "labels": false, "domain": false, "title": null}},
            "text": {"value": "Ox Cuba B"}
          }
        },
        {
          "data": {"name": "ox"},
          "transform": [{"filter": "datum.series === 'Ox Cuba B'"}],
          "mark": {"type": "line", "interpolate": "step-after", "strokeWidth": 2.2, "color": "#ff8c00"},
          "encoding": {
            "x": {"field": "t", "type": "temporal", "scale": {"domain": [1723420800000, 1723528800000], "nice": false},
              "axis": {"tickCount": 30, "grid": true, "gridColor": "#e1dddc", "gridWidth": 3, "ticks": false, "labels": false, "domain": false, "title": null}},
            "y": {"field": "v", "type": "quantitative", "scale": {"domain": [0, 5], "nice": false, "zero": false},
              "axis": {"values": [0, 0.5, 1, 1.5, 2, 2.5, 3, 3.5, 4, 4.5, 5], "grid": true, "gridColor": "#e1dddc", "gridWidth": 3, "ticks": true, "tickSize": -5, "tickColor": "#000000", "tickWidth": 2, "labels": false, "domain": false, "title": null}}
          }
        },
        {
          "data": {"name": "ox"},
          "transform": [{"filter": "datum.series === 'Ox Cuba A'"}],
          "mark": {"type": "line", "interpolate": "step-after", "strokeWidth": 2.2, "color": "#8b0000"},
          "encoding": {
            "x": {"field": "t", "type": "temporal", "scale": {"domain": [1723420800000, 1723528800000], "nice": false},
              "axis": {"tickCount": 30, "grid": true, "gridColor": "#e1dddc", "gridWidth": 3, "ticks": false, "labels": false, "domain": false, "title": null}},
            "y": {"field": "v", "type": "quantitative", "scale": {"domain": [0, 5], "nice": false, "zero": false},
              "axis": {"values": [0, 0.5, 1, 1.5, 2, 2.5, 3, 3.5, 4, 4.5, 5], "grid": true, "gridColor": "#e1dddc", "gridWidth": 3, "ticks": true, "tickSize": -5, "tickColor": "#000000", "tickWidth": 2, "labels": false, "domain": false, "title": null}}
          }
        },
        {
          "data": {"values": [{}]},
          "mark": {"type": "rect", "color": "#ebe7e2"},
          "encoding": {
            "x": {"datum": 1723450440000, "type": "temporal", "scale": {"domain": [1723420800000, 1723528800000], "nice": false},
              "axis": {"tickCount": 30, "grid": true, "gridColor": "#e1dddc", "gridWidth": 3, "ticks": false, "labels": false, "domain": false, "title": null}},
            "x2": {"datum": 1723455120000},
            "y": {"datum": 1.06, "type": "quantitative", "scale": {"domain": [0, 5], "nice": false, "zero": false},
              "axis": {"values": [0, 0.5, 1, 1.5, 2, 2.5, 3, 3.5, 4, 4.5, 5], "grid": true, "gridColor": "#e1dddc", "gridWidth": 3, "ticks": true, "tickSize": -5, "tickColor": "#000000", "tickWidth": 2, "labels": false, "domain": false, "title": null}},
            "y2": {"datum": 1.594}
          }
        },
        {
          "data": {"name": "annot"},
          "transform": [{"filter": "datum.panel === 'ox' && datum.kind === 'max'"}],
          "mark": {"type": "text", "align": "center", "baseline": "bottom", "fontSize": 27, "dy": -2},
          "encoding": {
            "x": {"field": "t", "type": "temporal", "scale": {"domain": [1723420800000, 1723528800000], "nice": false},
              "axis": {"tickCount": 30, "grid": true, "gridColor": "#e1dddc", "gridWidth": 3, "ticks": false, "labels": false, "domain": false, "title": null}},
            "y": {"field": "v", "type": "quantitative", "scale": {"domain": [0, 5], "nice": false, "zero": false},
              "axis": {"values": [0, 0.5, 1, 1.5, 2, 2.5, 3, 3.5, 4, 4.5, 5], "grid": true, "gridColor": "#e1dddc", "gridWidth": 3, "ticks": true, "tickSize": -5, "tickColor": "#000000", "tickWidth": 2, "labels": false, "domain": false, "title": null}},
            "text": {"field": "label", "type": "nominal"},
            "color": {"condition": {"test": "datum.series === 'Ox Cuba A'", "value": "#8b0000"}, "value": "#ff8c00"}
          }
        },
        {
          "data": {"name": "annot"},
          "transform": [{"filter": "datum.panel === 'ox' && datum.kind === 'last'"}],
          "mark": {"type": "text", "align": "right", "baseline": "top", "fontSize": 27, "dy": 8},
          "encoding": {
            "x": {"field": "t", "type": "temporal", "scale": {"domain": [1723420800000, 1723528800000], "nice": false},
              "axis": {"tickCount": 30, "grid": true, "gridColor": "#e1dddc", "gridWidth": 3, "ticks": false, "labels": false, "domain": false, "title": null}},
            "y": {"field": "v", "type": "quantitative", "scale": {"domain": [0, 5], "nice": false, "zero": false},
              "axis": {"values": [0, 0.5, 1, 1.5, 2, 2.5, 3, 3.5, 4, 4.5, 5], "grid": true, "gridColor": "#e1dddc", "gridWidth": 3, "ticks": true, "tickSize": -5, "tickColor": "#000000", "tickWidth": 2, "labels": false, "domain": false, "title": null}},
            "text": {"field": "label", "type": "nominal"},
            "color": {"condition": {"test": "datum.series === 'Ox Cuba A'", "value": "#8b0000"}, "value": "#ff8c00"}
          }
        }
      ]
    },
    {
      "width": 2479, "height": 320,
      "layer": [
        {
          "data": {"values": [{}]},
          "mark": {"type": "rule", "color": "#e1dddc", "strokeWidth": 7},
          "encoding": {"y": {"datum": 50, "type": "quantitative", "scale": {"domain": [0, 100], "nice": false, "zero": false},
            "axis": {"values": [0, 10, 20, 30, 40, 50, 60, 70, 80, 90, 100], "grid": true, "gridColor": "#e1dddc", "gridWidth": 3, "ticks": true, "tickSize": -5, "tickColor": "#000000", "tickWidth": 2, "labels": false, "domain": false, "title": null}}}
        },
        {
          "data": {"values": [{}]},
          "mark": {"type": "rule", "color": "#b0b0ff", "strokeWidth": 1.5, "clip": false},
          "encoding": {
            "x": {"datum": 1723417200000, "type": "temporal", "scale": {"domain": [1723420800000, 1723528800000], "nice": false},
              "axis": {"tickCount": 30, "grid": true, "gridColor": "#e1dddc", "gridWidth": 3, "ticks": false, "labels": false, "domain": false, "title": null}},
            "x2": {"datum": 1723532400000},
            "y": {"datum": 100, "type": "quantitative", "scale": {"domain": [0, 100], "nice": false, "zero": false},
              "axis": {"values": [0, 10, 20, 30, 40, 50, 60, 70, 80, 90, 100], "grid": true, "gridColor": "#e1dddc", "gridWidth": 3, "ticks": true, "tickSize": -5, "tickColor": "#000000", "tickWidth": 2, "labels": false, "domain": false, "title": null}}
          }
        },
        {
          "data": {"values": [{}]},
          "mark": {"type": "rule", "color": "#b0b0ff", "strokeWidth": 1.5},
          "encoding": {"x": {"datum": 1723442400000, "type": "temporal", "scale": {"domain": [1723420800000, 1723528800000], "nice": false},
            "axis": {"tickCount": 30, "grid": true, "gridColor": "#e1dddc", "gridWidth": 3, "ticks": false, "labels": false, "domain": false, "title": null}}}
        },
        {
          "data": {"values": [{}]},
          "mark": {"type": "text", "align": "left", "baseline": "alphabetic", "fontSize": 22, "dx": 1, "color": "#ff0000"},
          "encoding": {
            "x": {"datum": 1723420800000, "type": "temporal", "scale": {"domain": [1723420800000, 1723528800000], "nice": false},
              "axis": {"tickCount": 30, "grid": true, "gridColor": "#e1dddc", "gridWidth": 3, "ticks": false, "labels": false, "domain": false, "title": null}},
            "y": {"datum": 90, "type": "quantitative", "scale": {"domain": [0, 100], "nice": false, "zero": false},
              "axis": {"values": [0, 10, 20, 30, 40, 50, 60, 70, 80, 90, 100], "grid": true, "gridColor": "#e1dddc", "gridWidth": 3, "ticks": true, "tickSize": -5, "tickColor": "#000000", "tickWidth": 2, "labels": false, "domain": false, "title": null}},
            "text": {"value": "Fangos en Exceso (m³/h)"}
          }
        },
        {
          "data": {"name": "fangos"},
          "mark": {"type": "line", "interpolate": "step-after", "strokeWidth": 2.7, "color": "#ff0000"},
          "encoding": {
            "x": {"field": "t", "type": "temporal", "scale": {"domain": [1723420800000, 1723528800000], "nice": false},
              "axis": {"tickCount": 30, "grid": true, "gridColor": "#e1dddc", "gridWidth": 3, "ticks": false, "labels": false, "domain": false, "title": null}},
            "y": {"field": "v", "type": "quantitative", "scale": {"domain": [0, 100], "nice": false, "zero": false},
              "axis": {"values": [0, 10, 20, 30, 40, 50, 60, 70, 80, 90, 100], "grid": true, "gridColor": "#e1dddc", "gridWidth": 3, "ticks": true, "tickSize": -5, "tickColor": "#000000", "tickWidth": 2, "labels": false, "domain": false, "title": null}}
          }
        },
        {
          "data": {"name": "fangos_pts"},
          "mark": {"type": "circle", "size": 227, "color": "#ff0000", "opacity": 1},
          "encoding": {
            "x": {"field": "t", "type": "temporal", "scale": {"domain": [1723420800000, 1723528800000], "nice": false},
              "axis": {"tickCount": 30, "grid": true, "gridColor": "#e1dddc", "gridWidth": 3, "ticks": false, "labels": false, "domain": false, "title": null}},
            "y": {"field": "v", "type": "quantitative", "scale": {"domain": [0, 100], "nice": false, "zero": false},
              "axis": {"values": [0, 10, 20, 30, 40, 50, 60, 70, 80, 90, 100], "grid": true, "gridColor": "#e1dddc", "gridWidth": 3, "ticks": true, "tickSize": -5, "tickColor": "#000000", "tickWidth": 2, "labels": false, "domain": false, "title": null}}
          }
        },
        {
          "data": {"values": [{}]},
          "mark": {"type": "rect", "color": "#ebe7e2"},
          "encoding": {
            "x": {"datum": 1723449900000, "type": "temporal", "scale": {"domain": [1723420800000, 1723528800000], "nice": false},
              "axis": {"tickCount": 30, "grid": true, "gridColor": "#e1dddc", "gridWidth": 3, "ticks": false, "labels": false, "domain": false, "title": null}},
            "x2": {"datum": 1723454520000},
            "y": {"datum": 10.2, "type": "quantitative", "scale": {"domain": [0, 100], "nice": false, "zero": false},
              "axis": {"values": [0, 10, 20, 30, 40, 50, 60, 70, 80, 90, 100], "grid": true, "gridColor": "#e1dddc", "gridWidth": 3, "ticks": true, "tickSize": -5, "tickColor": "#000000", "tickWidth": 2, "labels": false, "domain": false, "title": null}},
            "y2": {"datum": 20.5}
          }
        },
        {
          "data": {"name": "annot"},
          "transform": [{"filter": "datum.panel === 'fangos' && datum.kind === 'max'"}],
          "mark": {"type": "text", "align": "center", "baseline": "bottom", "fontSize": 27, "dy": -2, "color": "#ff0000"},
          "encoding": {
            "x": {"field": "t", "type": "temporal", "scale": {"domain": [1723420800000, 1723528800000], "nice": false},
              "axis": {"tickCount": 30, "grid": true, "gridColor": "#e1dddc", "gridWidth": 3, "ticks": false, "labels": false, "domain": false, "title": null}},
            "y": {"field": "v", "type": "quantitative", "scale": {"domain": [0, 100], "nice": false, "zero": false},
              "axis": {"values": [0, 10, 20, 30, 40, 50, 60, 70, 80, 90, 100], "grid": true, "gridColor": "#e1dddc", "gridWidth": 3, "ticks": true, "tickSize": -5, "tickColor": "#000000", "tickWidth": 2, "labels": false, "domain": false, "title": null}},
            "text": {"field": "label", "type": "nominal"}
          }
        },
        {
          "data": {"name": "annot"},
          "transform": [{"filter": "datum.panel === 'fangos' && datum.kind === 'min'"}],
          "mark": {"type": "text", "align": "left", "baseline": "top", "fontSize": 27, "dy": 7, "color": "#ff0000"},
          "encoding": {
            "x": {"field": "t", "type": "temporal", "scale": {"domain": [1723420800000, 1723528800000], "nice": false},
              "axis": {"tickCount": 30, "grid": true, "gridColor": "#e1dddc", "gridWidth": 3, "ticks": false, "labels": false, "domain": false, "title": null}},
            "y": {"field": "v", "type": "quantitative", "scale": {"domain": [0, 100], "nice": false, "zero": false},
              "axis": {"values": [0, 10, 20, 30, 40, 50, 60, 70, 80, 90, 100], "grid": true, "gridColor": "#e1dddc", "gridWidth": 3, "ticks": true, "tickSize": -5, "tickColor": "#000000", "tickWidth": 2, "labels": false, "domain": false, "title": null}},
            "text": {"field": "label", "type": "nominal"}
          }
        },
        {
          "data": {"name": "annot"},
          "transform": [{"filter": "datum.panel === 'fangos' && datum.kind === 'last'"}],
          "mark": {"type": "text", "align": "right", "baseline": "top", "fontSize": 27, "dy": 8, "color": "#ff0000"},
          "encoding": {
            "x": {"field": "t", "type": "temporal", "scale": {"domain": [1723420800000, 1723528800000], "nice": false},
              "axis": {"tickCount": 30, "grid": true, "gridColor": "#e1dddc", "gridWidth": 3, "ticks": false, "labels": false, "domain": false, "title": null}},
            "y": {"field": "v", "type": "quantitative", "scale": {"domain": [0, 100], "nice": false, "zero": false},
              "axis": {"values": [0, 10, 20, 30, 40, 50, 60, 70, 80, 90, 100], "grid": true, "gridColor": "#e1dddc", "gridWidth": 3, "ticks": true, "tickSize": -5, "tickColor": "#000000", "tickWidth": 2, "labels": false, "domain": false, "title": null}},
            "text": {"field": "label", "type": "nominal"}
          }
        }
      ]
    },
    {
      "width": 2479, "height": 320,
      "layer": [
        {
          "data": {"values": [{}]},
          "mark": {"type": "rule", "color": "#e1dddc", "strokeWidth": 7},
          "encoding": {"y": {"datum": 50, "type": "quantitative", "scale": {"domain": [0, 100], "nice": false, "zero": false},
            "axis": {"values": [0, 10, 20, 30, 40, 50, 60, 70, 80, 90, 100], "grid": true, "gridColor": "#e1dddc", "gridWidth": 3, "ticks": true, "tickSize": -5, "tickColor": "#000000", "tickWidth": 2, "labels": false, "domain": false, "title": null}}}
        },
        {
          "data": {"values": [{}]},
          "mark": {"type": "rule", "color": "#b0b0ff", "strokeWidth": 1.5, "clip": false},
          "encoding": {
            "x": {"datum": 1723417200000, "type": "temporal", "scale": {"domain": [1723420800000, 1723528800000], "nice": false},
              "axis": {"tickCount": 30, "grid": true, "gridColor": "#e1dddc", "gridWidth": 3, "ticks": false, "domain": false, "title": null, "format": "%H", "labelExpr": "datum.value < 1723442400000 ? '' : datum.label", "labelFontSize": 25, "labelColor": "#000000", "labelPadding": 12, "labelFlush": false, "labelOverlap": false}},
            "x2": {"datum": 1723532400000},
            "y": {"datum": 100, "type": "quantitative", "scale": {"domain": [0, 100], "nice": false, "zero": false},
              "axis": {"values": [0, 10, 20, 30, 40, 50, 60, 70, 80, 90, 100], "grid": true, "gridColor": "#e1dddc", "gridWidth": 3, "ticks": true, "tickSize": -5, "tickColor": "#000000", "tickWidth": 2, "labels": false, "domain": false, "title": null}}
          }
        },
        {
          "data": {"values": [{}]},
          "mark": {"type": "rule", "color": "#b0b0ff", "strokeWidth": 1.5, "clip": false},
          "encoding": {
            "x": {"datum": 1723417200000, "type": "temporal", "scale": {"domain": [1723420800000, 1723528800000], "nice": false},
              "axis": {"tickCount": 30, "grid": true, "gridColor": "#e1dddc", "gridWidth": 3, "ticks": false, "domain": false, "title": null, "format": "%H", "labelExpr": "datum.value < 1723442400000 ? '' : datum.label", "labelFontSize": 25, "labelColor": "#000000", "labelPadding": 12, "labelFlush": false, "labelOverlap": false}},
            "x2": {"datum": 1723532400000},
            "y": {"datum": 0, "type": "quantitative", "scale": {"domain": [0, 100], "nice": false, "zero": false},
              "axis": {"values": [0, 10, 20, 30, 40, 50, 60, 70, 80, 90, 100], "grid": true, "gridColor": "#e1dddc", "gridWidth": 3, "ticks": true, "tickSize": -5, "tickColor": "#000000", "tickWidth": 2, "labels": false, "domain": false, "title": null}}
          }
        },
        {
          "data": {"values": [{}]},
          "mark": {"type": "rule", "color": "#b0b0ff", "strokeWidth": 1.5},
          "encoding": {"x": {"datum": 1723442400000, "type": "temporal", "scale": {"domain": [1723420800000, 1723528800000], "nice": false},
            "axis": {"tickCount": 30, "grid": true, "gridColor": "#e1dddc", "gridWidth": 3, "ticks": false, "domain": false, "title": null, "format": "%H", "labelExpr": "datum.value < 1723442400000 ? '' : datum.label", "labelFontSize": 25, "labelColor": "#000000", "labelPadding": 12, "labelFlush": false, "labelOverlap": false}}}
        },
        {
          "data": {"values": [{}]},
          "mark": {"type": "text", "align": "left", "baseline": "alphabetic", "fontSize": 22, "dx": 1, "color": "#000066"},
          "encoding": {
            "x": {"datum": 1723420800000, "type": "temporal", "scale": {"domain": [1723420800000, 1723528800000], "nice": false},
              "axis": {"tickCount": 30, "grid": true, "gridColor": "#e1dddc", "gridWidth": 3, "ticks": false, "domain": false, "title": null, "format": "%H", "labelExpr": "datum.value < 1723442400000 ? '' : datum.label", "labelFontSize": 25, "labelColor": "#000000", "labelPadding": 12, "labelFlush": false, "labelOverlap": false}},
            "y": {"datum": 90, "type": "quantitative", "scale": {"domain": [0, 100], "nice": false, "zero": false},
              "axis": {"values": [0, 10, 20, 30, 40, 50, 60, 70, 80, 90, 100], "grid": true, "gridColor": "#e1dddc", "gridWidth": 3, "ticks": true, "tickSize": -5, "tickColor": "#000000", "tickWidth": 2, "labels": false, "domain": false, "title": null}},
            "text": {"value": "Nivel Silo (%)"}
          }
        },
        {
          "data": {"name": "silo"},
          "mark": {"type": "line", "interpolate": "step-after", "strokeWidth": 3, "color": "#000066"},
          "encoding": {
            "x": {"field": "t", "type": "temporal", "scale": {"domain": [1723420800000, 1723528800000], "nice": false},
              "axis": {"tickCount": 30, "grid": true, "gridColor": "#e1dddc", "gridWidth": 3, "ticks": false, "domain": false, "title": null, "format": "%H", "labelExpr": "datum.value < 1723442400000 ? '' : datum.label", "labelFontSize": 25, "labelColor": "#000000", "labelPadding": 12, "labelFlush": false, "labelOverlap": false}},
            "y": {"field": "v", "type": "quantitative", "scale": {"domain": [0, 100], "nice": false, "zero": false},
              "axis": {"values": [0, 10, 20, 30, 40, 50, 60, 70, 80, 90, 100], "grid": true, "gridColor": "#e1dddc", "gridWidth": 3, "ticks": true, "tickSize": -5, "tickColor": "#000000", "tickWidth": 2, "labels": false, "domain": false, "title": null}}
          }
        },
        {
          "data": {"values": [{}]},
          "mark": {"type": "rect", "color": "#ebe7e2", "clip": false},
          "encoding": {
            "x": {"datum": 1723441560000, "type": "temporal", "scale": {"domain": [1723420800000, 1723528800000], "nice": false},
              "axis": {"tickCount": 30, "grid": true, "gridColor": "#e1dddc", "gridWidth": 3, "ticks": false, "domain": false, "title": null, "format": "%H", "labelExpr": "datum.value < 1723442400000 ? '' : datum.label", "labelFontSize": 25, "labelColor": "#000000", "labelPadding": 12, "labelFlush": false, "labelOverlap": false}},
            "x2": {"datum": 1723444980000},
            "y": {"datum": 99.7, "type": "quantitative", "scale": {"domain": [0, 100], "nice": false, "zero": false},
              "axis": {"values": [0, 10, 20, 30, 40, 50, 60, 70, 80, 90, 100], "grid": true, "gridColor": "#e1dddc", "gridWidth": 3, "ticks": true, "tickSize": -5, "tickColor": "#000000", "tickWidth": 2, "labels": false, "domain": false, "title": null}},
            "y2": {"datum": 110}
          }
        },
        {
          "data": {"name": "annot"},
          "transform": [{"filter": "datum.panel === 'silo' && datum.kind === 'first'"}],
          "mark": {"type": "text", "align": "right", "baseline": "bottom", "fontSize": 27, "dx": -3, "dy": -1.5, "color": "#000066"},
          "encoding": {
            "x": {"field": "t", "type": "temporal", "scale": {"domain": [1723420800000, 1723528800000], "nice": false},
              "axis": {"tickCount": 30, "grid": true, "gridColor": "#e1dddc", "gridWidth": 3, "ticks": false, "domain": false, "title": null, "format": "%H", "labelExpr": "datum.value < 1723442400000 ? '' : datum.label", "labelFontSize": 25, "labelColor": "#000000", "labelPadding": 12, "labelFlush": false, "labelOverlap": false}},
            "y": {"field": "v", "type": "quantitative", "scale": {"domain": [0, 100], "nice": false, "zero": false},
              "axis": {"values": [0, 10, 20, 30, 40, 50, 60, 70, 80, 90, 100], "grid": true, "gridColor": "#e1dddc", "gridWidth": 3, "ticks": true, "tickSize": -5, "tickColor": "#000000", "tickWidth": 2, "labels": false, "domain": false, "title": null}},
            "text": {"field": "label", "type": "nominal"}
          }
        },
        {
          "data": {"name": "annot"},
          "transform": [{"filter": "datum.panel === 'silo' && datum.kind === 'last'"}],
          "mark": {"type": "text", "align": "right", "baseline": "top", "fontSize": 27, "dy": 8, "color": "#000066"},
          "encoding": {
            "x": {"field": "t", "type": "temporal", "scale": {"domain": [1723420800000, 1723528800000], "nice": false},
              "axis": {"tickCount": 30, "grid": true, "gridColor": "#e1dddc", "gridWidth": 3, "ticks": false, "domain": false, "title": null, "format": "%H", "labelExpr": "datum.value < 1723442400000 ? '' : datum.label", "labelFontSize": 25, "labelColor": "#000000", "labelPadding": 12, "labelFlush": false, "labelOverlap": false}},
            "y": {"field": "v", "type": "quantitative", "scale": {"domain": [0, 100], "nice": false, "zero": false},
              "axis": {"values": [0, 10, 20, 30, 40, 50, 60, 70, 80, 90, 100], "grid": true, "gridColor": "#e1dddc", "gridWidth": 3, "ticks": true, "tickSize": -5, "tickColor": "#000000", "tickWidth": 2, "labels": false, "domain": false, "title": null}},
            "text": {"field": "label", "type": "nominal"}
          }
        }
      ]
    }
  ]
}
